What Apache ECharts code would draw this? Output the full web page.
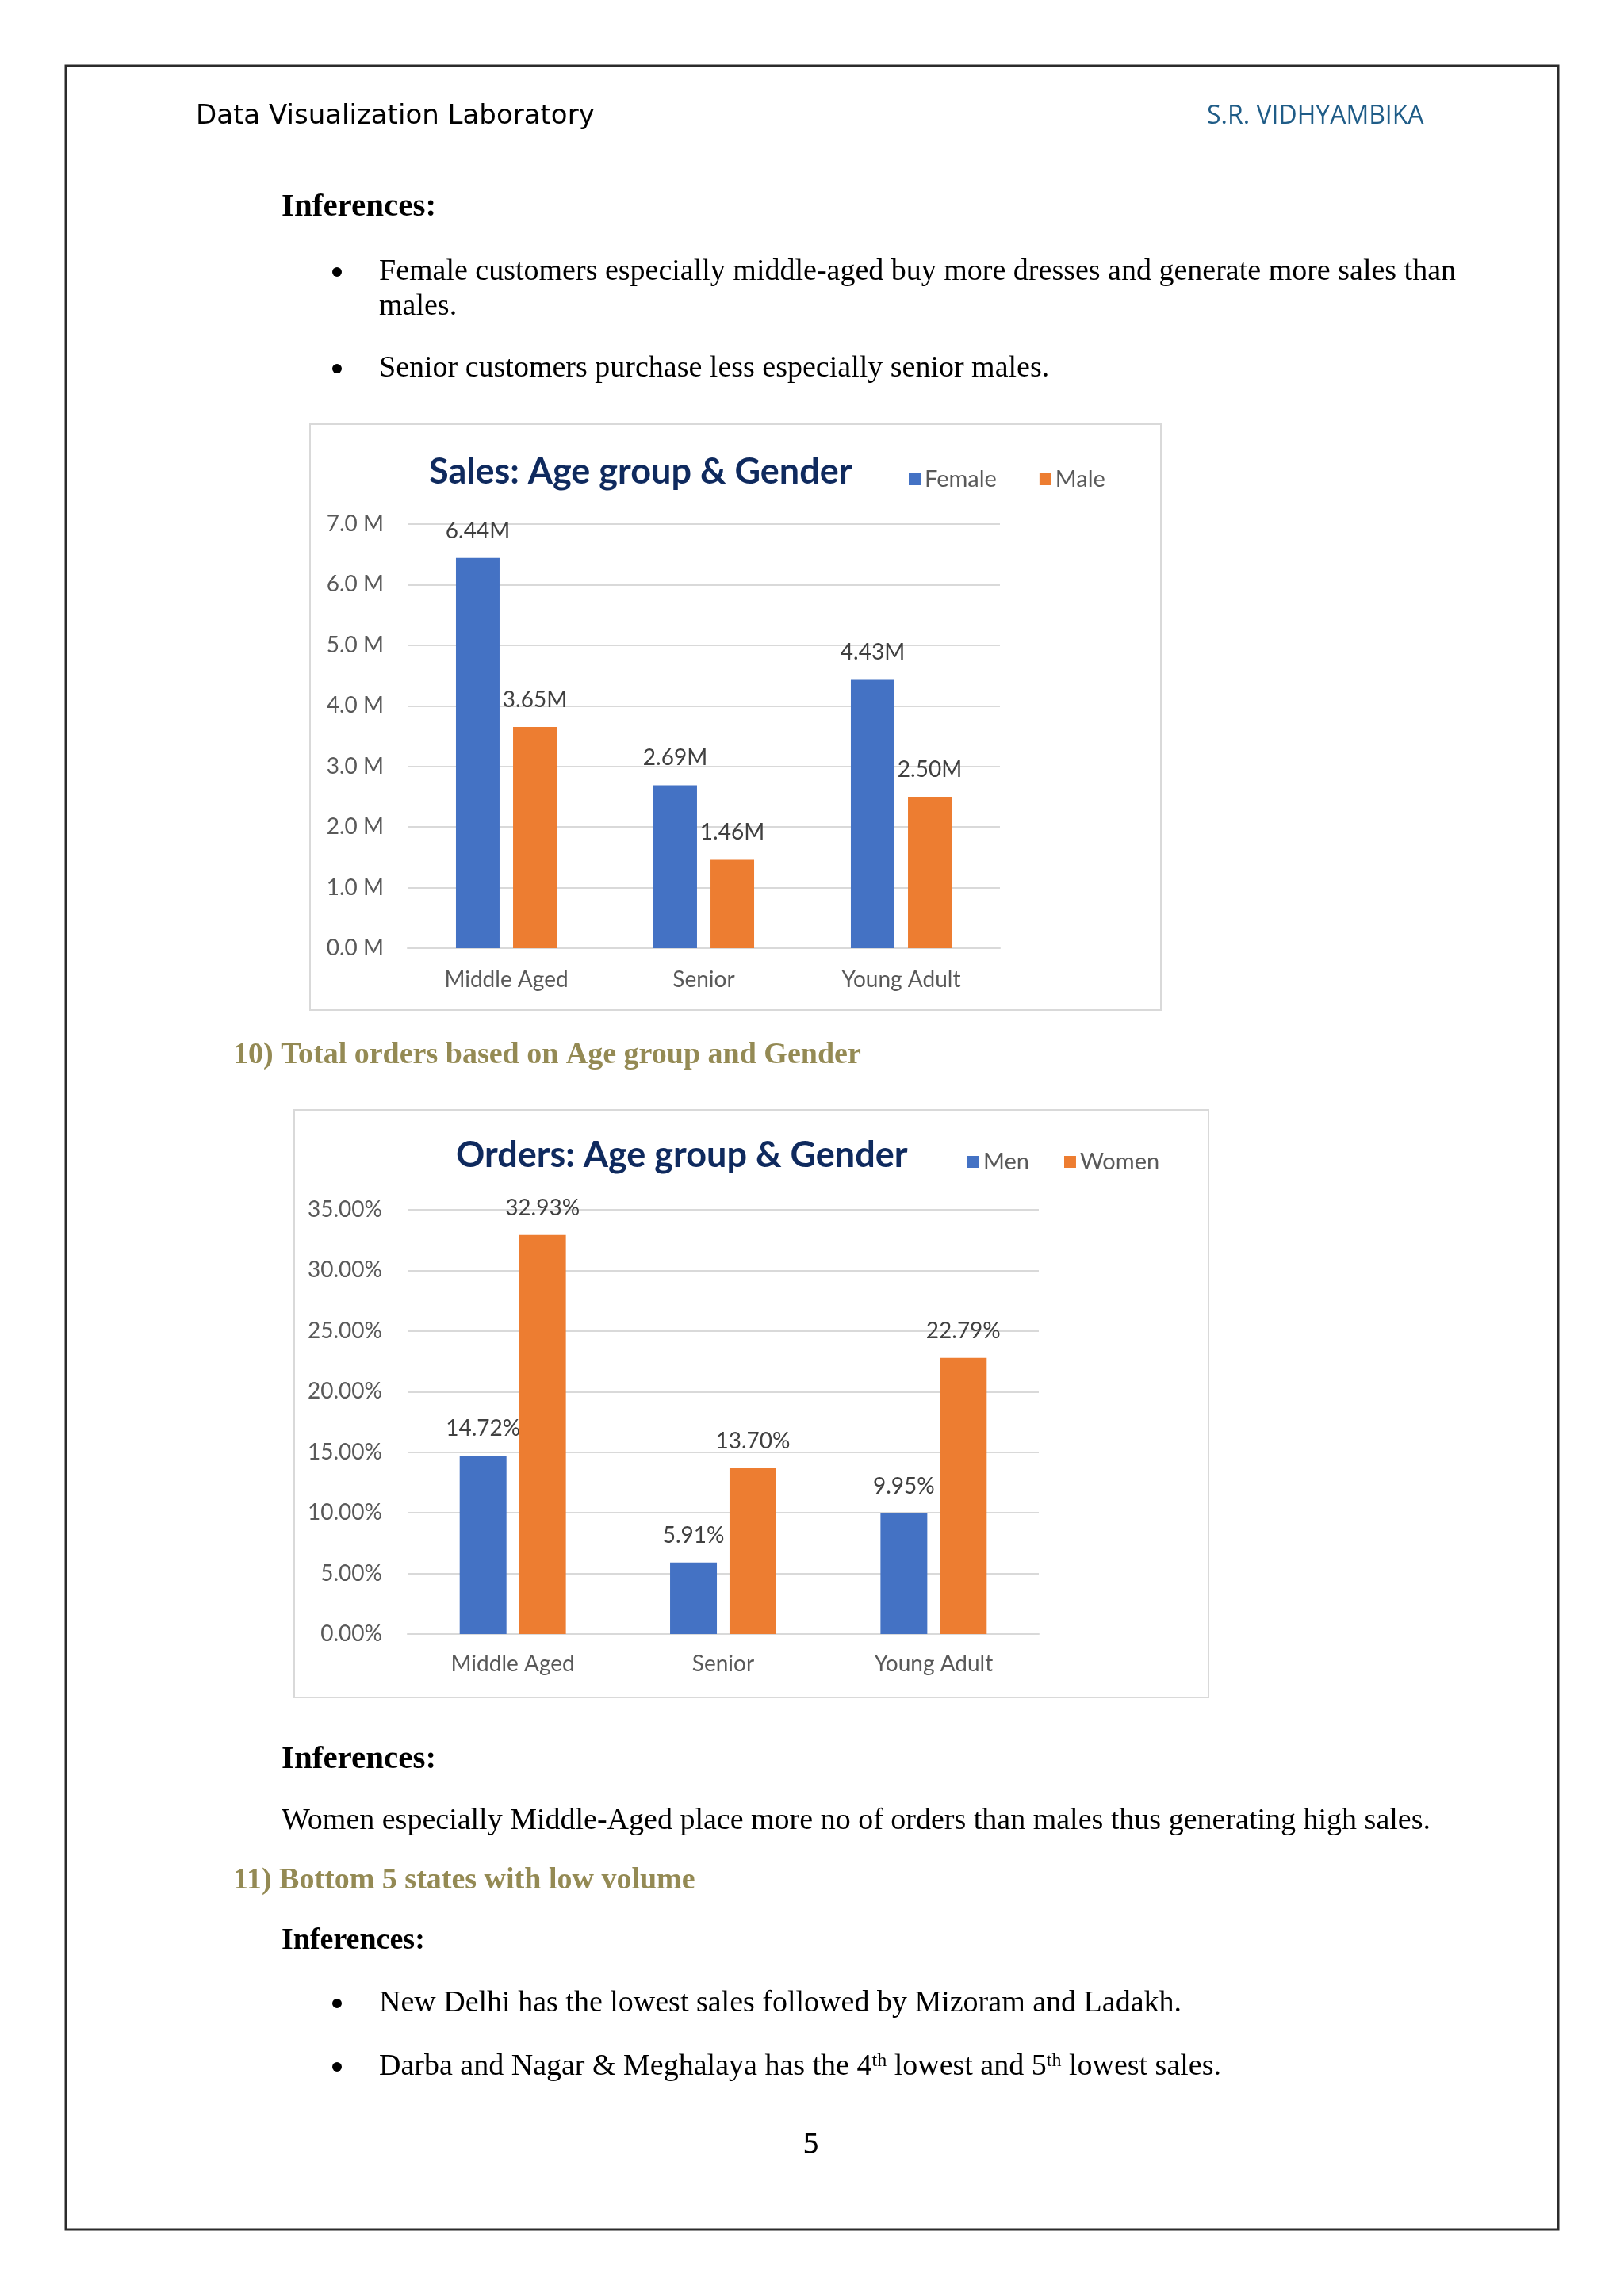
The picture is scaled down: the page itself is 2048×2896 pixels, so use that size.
<!DOCTYPE html>
<html>
<head>
<meta charset="utf-8">
<script src="https://cdn.jsdelivr.net/npm/echarts@6/dist/echarts.min.js"></script>
<style>
html,body{margin:0;padding:0;background:#fff;}
#main{width:2048px;height:2896px;}
</style>
</head>
<body>
<div id="main"></div>
<script>
// ---- data ----
const categories = ['Middle Aged', 'Senior', 'Young Adult'];
const salesFemale = [6.44, 2.69, 4.43];   // millions
const salesMale = [3.65, 1.46, 2.50];     // millions
const ordersMen = [14.72, 5.91, 9.95];    // percent
const ordersWomen = [32.93, 13.70, 22.79];// percent
const salesAxis = { min: 0, max: 7, interval: 1 };
const ordersAxis = { min: 0, max: 35, interval: 5 };

const BLUE = '#4472C4', ORANGE = '#ED7D31';
const TICK = '#595959', LABEL = '#404040', GRID = '#d9d9d9';
const CF = 'Lato, "Open Sans", sans-serif';
const SERIF = '"Liberation Serif", "Times New Roman", serif';

function txt(x, y, text, font, fill, align) {
  return { type: 'text', x: x, y: y + 3, silent: true,
    style: { text: text, font: font, fill: fill || '#000', textAlign: align || 'left', textVerticalAlign: 'middle', verticalAlign: 'middle' } };
}
function dot(x, y) {
  return { type: 'circle', shape: { cx: x, cy: y + 3, r: 6 }, style: { fill: '#000' }, silent: true };
}

const graphics = [
  { type: 'rect', shape: { x: 83, y: 83, width: 1882, height: 2729 }, style: { fill: 'none', stroke: '#2b2b2b', lineWidth: 3 }, silent: true },
  txt(247, 144, 'Data Visualization Laboratory', '34px "DejaVu Sans", sans-serif', '#000'),
  txt(1522, 144, 'S.R. VIDHYAMBIKA', '32px "Open Sans", sans-serif', '#1F5C87'),
  txt(355, 258, 'Inferences:', 'bold 41px ' + SERIF, '#000'),
  dot(425, 340),
  txt(478, 340, 'Female customers especially middle-aged buy more dresses and generate more sales than', '38px ' + SERIF),
  txt(478, 384, 'males.', '38px ' + SERIF),
  dot(425, 462),
  txt(478, 462, 'Senior customers purchase less especially senior males.', '38px ' + SERIF),
  { type: 'rect', shape: { x: 391, y: 535, width: 1073, height: 739 }, style: { fill: 'none', stroke: GRID, lineWidth: 2 }, silent: true },
  txt(294, 1328, '10) Total orders based on Age group and Gender', 'bold 38px ' + SERIF, '#948A54'),
  { type: 'rect', shape: { x: 371, y: 1400, width: 1153, height: 741 }, style: { fill: 'none', stroke: GRID, lineWidth: 2 }, silent: true },
  txt(355, 2216, 'Inferences:', 'bold 41px ' + SERIF, '#000'),
  txt(355, 2294, 'Women especially Middle-Aged place more no of orders than males thus generating high sales.', '38px ' + SERIF),
  txt(294, 2369, '11) Bottom 5 states with low volume', 'bold 38px ' + SERIF, '#948A54'),
  txt(355, 2445, 'Inferences:', 'bold 38px ' + SERIF, '#000'),
  dot(425, 2524),
  txt(478, 2524, 'New Delhi has the lowest sales followed by Mizoram and Ladakh.', '38px ' + SERIF),
  dot(425, 2604),
  { type: 'text', x: 478, y: 2607, silent: true,
    style: { text: 'Darba and Nagar & Meghalaya has the 4{sup|th} lowest and 5{sup|th} lowest sales.',
      font: '38px ' + SERIF, fill: '#000', textVerticalAlign: 'middle', verticalAlign: 'middle',
      rich: { sup: { fontSize: 24, fontFamily: SERIF, verticalAlign: 'top', padding: [0, 0, 14, 0] } } } },
  txt(1023, 2704, '5', '34px "DejaVu Sans", sans-serif', '#000', 'center')
];

function yAx(gi, cfg, fmt, margin) {
  return { type: 'value', gridIndex: gi, min: cfg.min, max: cfg.max, interval: cfg.interval,
    axisLine: { show: false }, axisTick: { show: false },
    splitLine: { lineStyle: { color: GRID, width: 2 } },
    axisLabel: { formatter: fmt, color: TICK, fontFamily: CF, fontSize: 28, margin: margin } };
}
function xAx(gi, margin) {
  return { type: 'category', gridIndex: gi, data: categories,
    axisLine: { lineStyle: { color: GRID, width: 2 } }, axisTick: { show: false },
    axisLabel: { color: TICK, fontFamily: CF, fontSize: 28, margin: margin } };
}
function bar(name, data, gi, color, width, gap, fmt) {
  return { type: 'bar', name: name, data: data, xAxisIndex: gi, yAxisIndex: gi,
    barWidth: width, barGap: gap, itemStyle: { color: color },
    label: { show: true, position: 'top', distance: 20, color: LABEL, fontFamily: CF, fontSize: 28, formatter: fmt },
    emphasis: { disabled: true }, animation: false };
}

const option = {
  animation: false,
  backgroundColor: '#fff',
  title: [
    { text: 'Sales: Age group & Gender', left: 541, top: 573, padding: 0,
      textStyle: { fontFamily: CF, fontWeight: 'bold', fontSize: 45, color: '#0F2A5E' } },
    { text: 'Orders: Age group & Gender', left: 575, top: 1435, padding: 0,
      textStyle: { fontFamily: CF, fontWeight: 'bold', fontSize: 45, color: '#0F2A5E' } }
  ],
  legend: [
    { data: ['Female', 'Male'], left: 1146, top: 590, padding: 0, itemWidth: 15, itemHeight: 15, itemGap: 54,
      icon: 'rect', textStyle: { color: TICK, fontFamily: CF, fontSize: 29 } },
    { data: ['Men', 'Women'], left: 1220, top: 1451, padding: 0, itemWidth: 15, itemHeight: 15, itemGap: 44,
      icon: 'rect', textStyle: { color: TICK, fontFamily: CF, fontSize: 29 } }
  ],
  grid: [
    { left: 514, right: 2048 - 1261, top: 661, height: 535, containLabel: false },
    { left: 514, right: 2048 - 1310, top: 1526, height: 535, containLabel: false }
  ],
  xAxis: [xAx(0, 26), xAx(1, 24)],
  yAxis: [
    yAx(0, salesAxis, v => v.toFixed(1) + ' M', 30),
    yAx(1, ordersAxis, v => v.toFixed(2) + '%', 32)
  ],
  series: [
    bar('Female', salesFemale, 0, BLUE, 55, '31%', p => p.value.toFixed(2) + 'M'),
    bar('Male', salesMale, 0, ORANGE, 55, '31%', p => p.value.toFixed(2) + 'M'),
    bar('Men', ordersMen, 1, BLUE, 59, '27%', p => p.value.toFixed(2) + '%'),
    bar('Women', ordersWomen, 1, ORANGE, 59, '27%', p => p.value.toFixed(2) + '%')
  ],
  graphic: graphics
};

const chart = echarts.init(document.getElementById('main'), null, { renderer: 'canvas', width: 2048, height: 2896 });
chart.setOption(option);
</script>
</body>
</html>
